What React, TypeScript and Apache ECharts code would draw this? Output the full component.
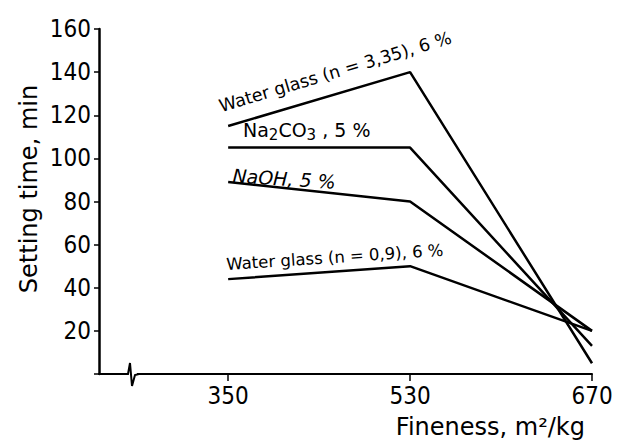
import React, { useEffect, useRef } from "react";
import * as echarts from "echarts";

// Fineness categories (m²/kg) — placed at index positions on the x axis
const fineness = ["350", "530", "670"];
// Setting time, min
const waterGlass335 = [115, 140, 5];
const na2co3 = [105, 105, 13];
const naoh = [89, 80, 20];
const waterGlass09 = [44, 50, 20];
const seriesNames = [
  "Water glass (n = 3,35), 6 %",
  "Na2CO3, 5 %",
  "NaOH, 5 %",
  "Water glass (n = 0,9), 6 %",
];

const FONT = "'DejaVu Sans Condensed', 'DejaVu Sans', sans-serif";
const FONT_W = "'DejaVu Sans', sans-serif";

export default function App() {
  const ref = useRef<HTMLDivElement>(null);
  useEffect(() => {
    if (!ref.current) return;
    const chart = echarts.init(ref.current, null, { renderer: "svg" });
    const allSeries = [waterGlass335, na2co3, naoh, waterGlass09];
    const idx = fineness.map((_, i) => i);
    chart.setOption({
      animation: false,
      backgroundColor: "#ffffff",
      grid: { left: 99, top: 29, right: 25, bottom: 70 },
      xAxis: {
        type: "value",
        min: -0.71,
        max: 2,
        splitLine: { show: false },
        axisLine: { onZero: false, lineStyle: { color: "#000", width: 2 } },
        axisTick: {
          show: true,
          customValues: idx,
          length: 7,
          lineStyle: { color: "#000", width: 1.5 },
        },
        axisLabel: {
          customValues: idx,
          margin: 10,
          color: "#000",
          fontSize: 24,
          fontFamily: FONT,
          formatter: (v: number) => fineness[Math.round(v)] ?? "",
        },
      },
      yAxis: {
        type: "value",
        position: "left",
        min: 0,
        max: 160,
        interval: 20,
        splitLine: { show: false },
        axisLine: { show: true, onZero: false, lineStyle: { color: "#000", width: 2.5 } },
        axisTick: { show: true, length: 5, lineStyle: { color: "#000", width: 1.5 } },
        axisLabel: {
          margin: 8,
          color: "#000",
          fontSize: 24,
          fontFamily: FONT,
          formatter: (v: number) => (v === 0 ? "" : String(v)),
        },
      },
      series: allSeries.map((vals, s) => ({
        name: seriesNames[s],
        type: "line",
        data: vals.map((v, i) => [idx[i], v]),
        symbol: "none",
        lineStyle: { color: "#000", width: 2.5 },
      })),
      graphic: [
        {
          type: "text",
          x: 29,
          y: 189,
          rotation: Math.PI / 2,
          z: 100,
          style: {
            text: "Setting time, min",
            fontSize: 24,
            fontFamily: FONT_W,
            fill: "#000",
            align: "center",
            verticalAlign: "middle",
          },
        },
        {
          type: "text",
          x: 585,
          y: 427,
          z: 100,
          style: {
            text: "Fineness, m²/kg",
            fontSize: 24,
            fontFamily: FONT_W,
            fill: "#000",
            align: "right",
            verticalAlign: "middle",
          },
        },
        {
          type: "text",
          x: 222,
          y: 115,
          rotation: 0.29,
          z: 100,
          style: {
            text: "Water glass (n = 3,35), 6 %",
            fontSize: 17.5,
            fontFamily: FONT_W,
            fill: "#000",
            align: "left",
            verticalAlign: "bottom",
          },
        },
        {
          type: "text",
          x: 243,
          y: 142,
          z: 100,
          style: {
            text: "Na{sub|2}CO{sub|3} , 5 %",
            fontSize: 19,
            fontFamily: FONT_W,
            fill: "#000",
            align: "left",
            verticalAlign: "bottom",
            rich: {
              sub: {
                fontSize: 15,
                fontFamily: FONT_W,
                fill: "#000",
                padding: [10, 0, 0, 0],
              },
            },
          },
        },
        {
          type: "text",
          x: 232,
          y: 185,
          rotation: -0.06,
          z: 100,
          style: {
            text: "NaOH, 5 %",
            fontSize: 19,
            fontStyle: "italic",
            fontFamily: FONT_W,
            fill: "#000",
            align: "left",
            verticalAlign: "bottom",
          },
        },
        {
          type: "text",
          x: 227,
          y: 273,
          rotation: 0.066,
          z: 100,
          style: {
            text: "Water glass (n = 0,9), 6 %",
            fontSize: 16.5,
            fontFamily: FONT_W,
            fill: "#000",
            align: "left",
            verticalAlign: "bottom",
          },
        },
        {
          type: "rect",
          z: 100,
          shape: { x: 127, y: 371, width: 10, height: 6 },
          style: { fill: "#fff" },
        },
        {
          type: "polyline",
          z: 101,
          shape: {
            points: [
              [125, 374],
              [128, 374],
              [130, 363],
              [132, 386],
              [135, 375],
              [139, 374],
            ],
          },
          style: { stroke: "#000", lineWidth: 2, fill: "none" },
        },
      ],
    });
    return () => chart.dispose();
  }, []);
  return (
    <div
      ref={ref}
      style={{ position: "absolute", left: 0, top: 0, width: 617, height: 444 }}
    />
  );
}
